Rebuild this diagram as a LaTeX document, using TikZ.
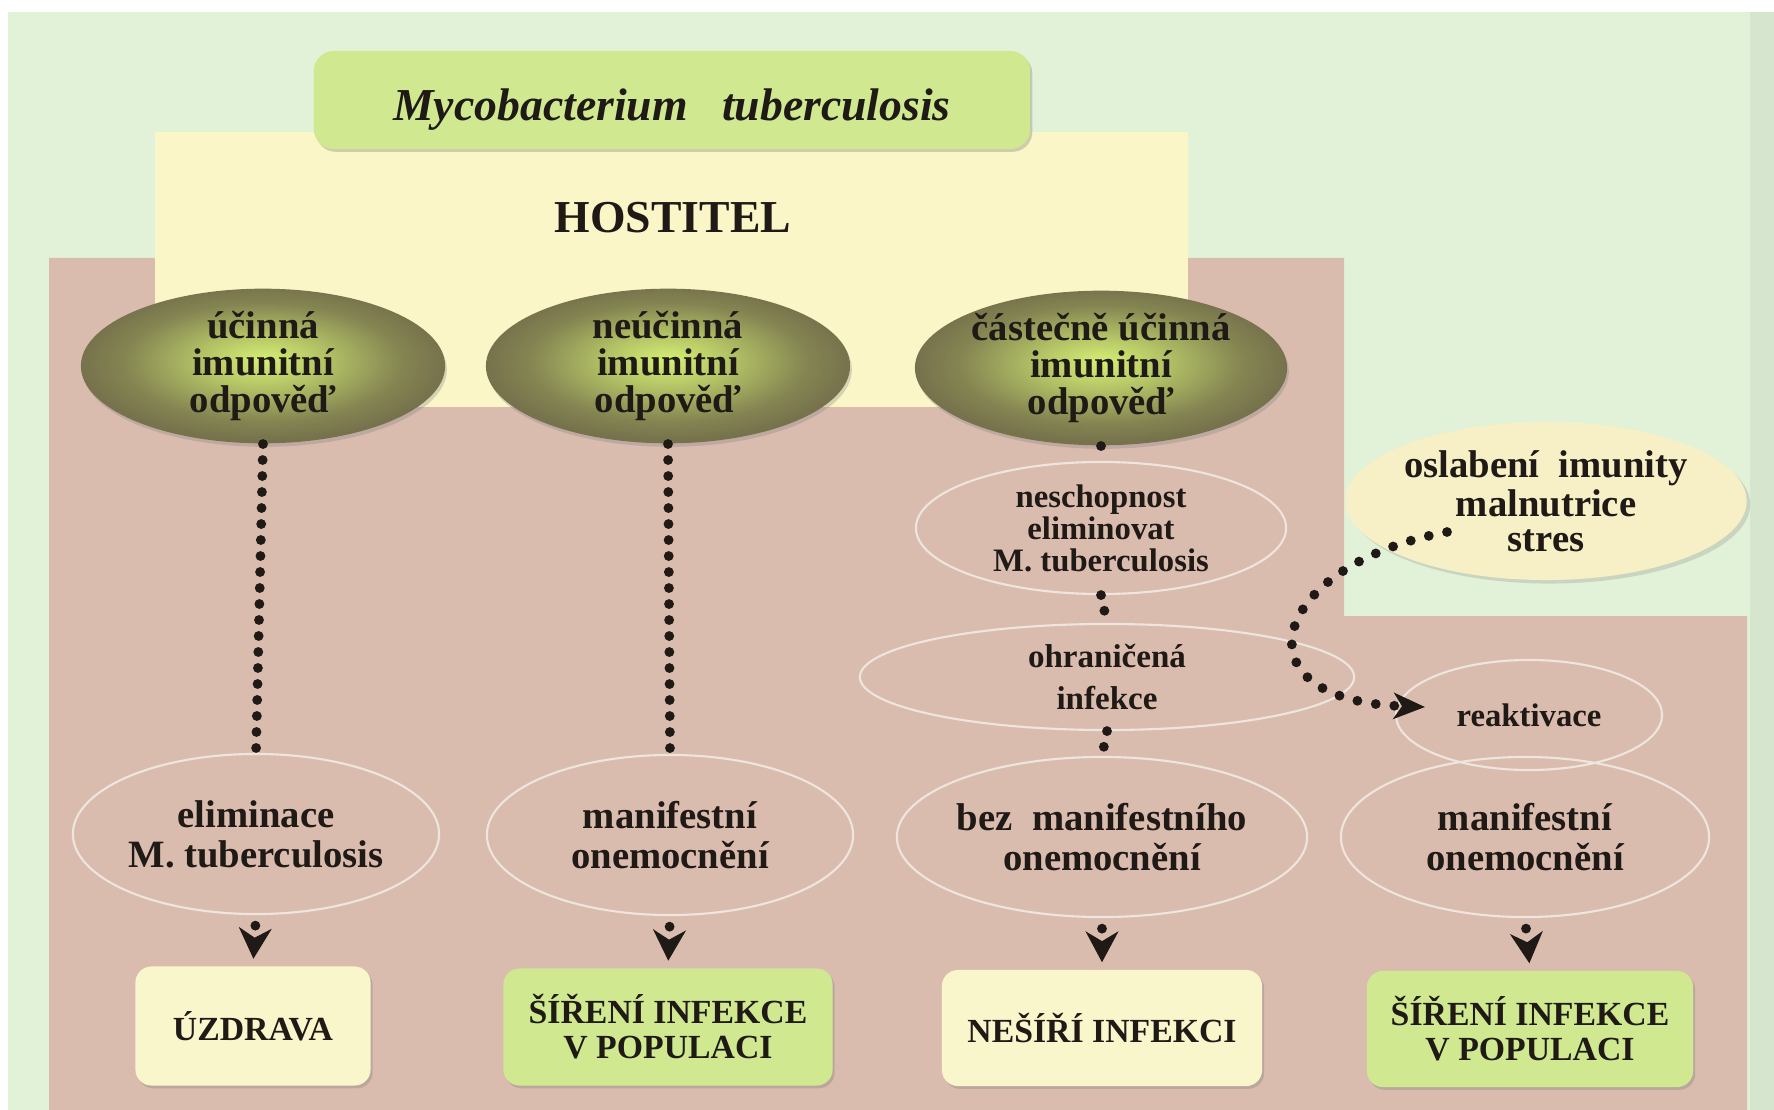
\documentclass[tikz,border=0pt]{standalone}
\usepackage{fontspec}
\setmainfont{Liberation Serif}
\usetikzlibrary{shapes.geometric,arrows.meta,shadows}

\definecolor{mintbg}{RGB}{226,242,216}
\definecolor{mintedge}{RGB}{214,229,206}
\definecolor{rosebg}{RGB}{218,188,174}
\definecolor{hostbg}{RGB}{250,246,200}
\definecolor{boxgreen}{RGB}{208,233,145}
\definecolor{boxcream}{RGB}{250,246,204}
\definecolor{stressbg}{RGB}{247,239,198}
\definecolor{olivein}{RGB}{214,240,116}
\definecolor{oliveout}{RGB}{118,114,76}
\definecolor{stageline}{RGB}{238,229,223}
\definecolor{ink}{RGB}{32,26,22}

\pgfdeclareradialshading{oliveshade}{\pgfpoint{0bp}{2bp}}{color(0bp)=(olivein); color(9bp)=(olivein!62!oliveout); color(19bp)=(oliveout!85!olivein); color(25bp)=(oliveout); color(50bp)=(oliveout)}

\begin{document}
\begin{tikzpicture}[x=0.01cm, y=-0.01cm,
    imun/.style={ellipse, shading=oliveshade, inner sep=0pt, align=center, text=ink,
      minimum width=3.64cm, minimum height=1.52cm,
      drop shadow={shadow xshift=0.5pt, shadow yshift=-1pt, opacity=0.3},
      font=\fontsize{11}{10.5}\selectfont\bfseries},
    stage/.style={ellipse, draw=stageline, line width=0.6pt, inner sep=0pt, align=center, text=ink,
      minimum width=3.66cm, minimum height=1.60cm,
      font=\fontsize{11}{11.4}\selectfont\bfseries},
    outcome/.style={rectangle, rounded corners=0.16cm, inner sep=0pt, align=center, text=ink,
      drop shadow={shadow xshift=0.6pt, shadow yshift=-0.8pt, opacity=0.35},
      font=\fontsize{9.6}{10}\selectfont\bfseries},
    dotline/.style={draw=ink, line width=2.8pt, line cap=round, dash pattern=on 0pt off 4.55pt},
    tip/.style={-{Stealth[length=8.8pt, width=9.4pt, inset=2.8pt, line width=0.4pt]}, shorten <=3pt, shorten >=2pt}]

    \useasboundingbox (0,0) rectangle (1774,1110);

    % backgrounds
    \fill[white] (0,0) rectangle (1774,1110);
    \fill[mintbg] (8,12) rectangle (1774,1110);
    \fill[mintedge] (1750,12) rectangle (1774,1110);
    \fill[rosebg] (49,258) -- (1344,258) -- (1344,616) -- (1747,616) -- (1747,1110) -- (49,1110) -- cycle;
    \fill[hostbg] (155,132) rectangle (1188,407);

    \node[outcome, fill=boxgreen, minimum width=7.16cm, minimum height=0.98cm, rounded corners=0.2cm,
      text height=0.5cm, font=\fontsize{13}{15}\selectfont\bfseries\itshape] (myco) at (672,100) {Mycobacterium\ \ \ tuberculosis};
    \node[text=ink, font=\fontsize{13}{15}\selectfont\bfseries] (host) at (673,218) {HOSTITEL};

    % immune responses
    \node[imun] (imun1) at (263,366) {účinná\\imunitní\\odpověď};
    \node[imun] (imun2) at (668,366) {neúčinná\\imunitní\\odpověď};
    \node[imun, minimum width=3.72cm, minimum height=1.50cm] (imun3) at (1101,368) {částečně účinná\\imunitní\\odpověď};

    % stages
    \node[stage, minimum width=3.70cm, minimum height=1.32cm, font=\fontsize{9.3}{9.1}\selectfont\bfseries] (nesch) at (1101,528) {neschopnost\\eliminovat\\M. tuberculosis};
    \node[stage, minimum width=4.94cm, minimum height=1.06cm, font=\fontsize{9.4}{12.2}\selectfont\bfseries] (ohr) at (1107,677) {ohraničená\\infekce};
    \node[stage, minimum width=2.66cm, minimum height=1.10cm, font=\fontsize{9.3}{10}\selectfont\bfseries] (reak) at (1529,715) {reaktivace};

    \node[stage] (elim) at (256,834) {eliminace\\M. tuberculosis};
    \node[stage] (manif1) at (670,835) {manifestní\\onemocnění};
    \node[stage, minimum width=3.70cm] (bez) at (1102,837) {bez\ \ manifestního\\onemocnění};
    \node[stage, minimum width=3.68cm] (manif2) at (1525,837) {manifestní\\onemocnění};

    \node[ellipse, fill=stressbg, inner sep=0pt, align=center, text=ink,
      minimum width=3.62cm, minimum height=1.58cm,
      drop shadow={shadow xshift=1pt, shadow yshift=-1pt, opacity=0.25},
      font=\fontsize{11}{9.9}\selectfont\bfseries] (osl) at (1546,501) {oslabení\ \ imunity\\malnutrice\\stres};

    % outcomes
    \node[outcome, fill=boxcream, minimum width=2.35cm, minimum height=1.19cm] (uzd) at (253,1026) {ÚZDRAVA};
    \node[outcome, fill=boxgreen, minimum width=3.29cm, minimum height=1.17cm] (sir1) at (668,1027) {ŠÍŘENÍ INFEKCE\\V POPULACI};
    \node[outcome, fill=boxcream, minimum width=3.20cm, minimum height=1.16cm] (nes) at (1102,1028) {NEŠÍŘÍ INFEKCI};
    \node[outcome, fill=boxgreen, minimum width=3.26cm, minimum height=1.16cm] (sir2) at (1530,1029) {ŠÍŘENÍ INFEKCE\\V POPULACI};

    % connectors
    \draw[dotline] (imun1.south) -- (elim.north);
    \draw[dotline] (imun2.south) -- (manif1.north);
    \draw[dotline] (imun3.south) -- (nesch.north);
    \draw[dotline] (nesch.south) -- (ohr.north);
    \draw[dotline] (ohr.south) -- (bez.north);

    \foreach \a/\b in {elim/uzd, manif1/sir1, bez/nes, manif2/sir2}
      \draw[dotline, tip] (\a.south) -- (\b.north);

    \draw[dotline, dash pattern=on 0pt off 5.3pt, -{Stealth[length=9pt, width=7.6pt, inset=2.5pt, line width=0.4pt]}]
      ([shift={(-99,31)}]osl.center) .. controls (1270,565) and (1230,700) .. ([shift={(30,-8)}]reak.west);

  \end{tikzpicture}
\end{document}
